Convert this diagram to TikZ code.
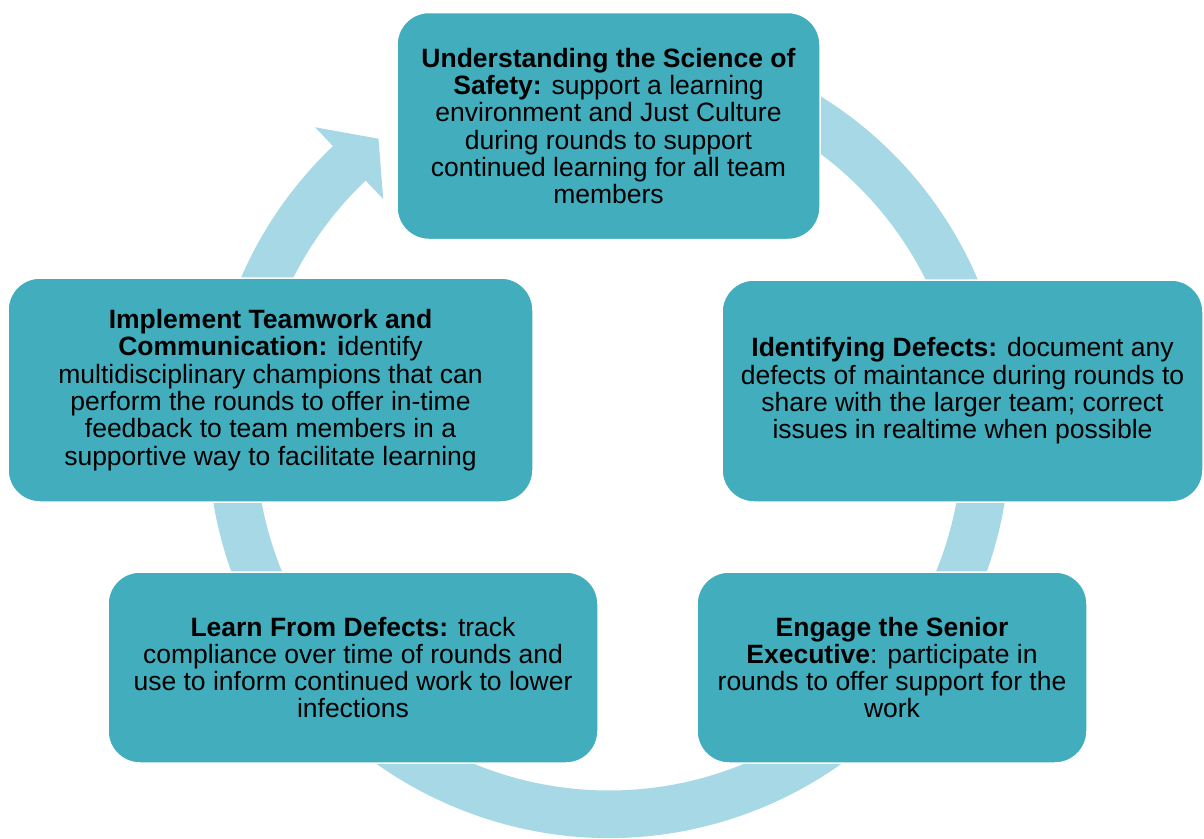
\documentclass[tikz,border=0pt]{standalone}
\usepackage{fontspec}
\setmainfont{Liberation Sans}
\usetikzlibrary{positioning}
\definecolor{boxteal}{HTML}{41ADBD}
\definecolor{ringblue}{HTML}{A6D8E5}

\begin{document}
\begin{tikzpicture}[x=1pt,y=-1pt,
    stepbox/.style={fill=boxteal,draw=white,line width=1.5pt,rounded corners=32pt,
      align=center,inner sep=0pt,font=\fontsize{26.5}{27.3}\selectfont}]
  \useasboundingbox (0,0) rectangle (1204,838);
  % cycle ring with arrow head
  \begin{scope}[shift={(609,437)}]
    \fill[ringblue] (-70:401) arc[start angle=-70,end angle=226.5,radius=401]
      -- (226.5:427) -- (232.3:377) -- (226.5:328)
      -- (226.5:353.5) arc[start angle=226.5,end angle=-70,radius=353.5] -- cycle;
  \end{scope}
  % steps
  \node[stepbox,minimum width=423pt,minimum height=227pt] (science) at (608.5,126)
    {\textbf{Understanding the Science of}\\
     \textbf{Safety:} support a learning\\
     environment and Just Culture\\
     during rounds to support\\
     continued learning for all team\\
     members};
  \node[stepbox,minimum width=481pt,minimum height=222pt] (defects) at (962.5,391)
    {\textbf{Identifying Defects:} document any\\
     defects of maintance during rounds to\\
     share with the larger team; correct\\
     issues in realtime when possible};
  \node[stepbox,minimum width=390pt,minimum height=191pt] (senior) at (892,667.5)
    {\textbf{Engage the Senior}\\
     \textbf{Executive}: participate in\\
     rounds to offer support for the\\
     work};
  \node[stepbox,minimum width=490pt,minimum height=191pt] (learn) at (353,667.5)
    {\textbf{Learn From Defects:} track\\
     compliance over time of rounds and\\
     use to inform continued work to lower\\
     infections};
  \node[stepbox,minimum width=525pt,minimum height=224pt] (teamwork) at (270.5,390)
    {\textbf{Implement Teamwork and}\\
     \textbf{Communication: i}dentify\\
     multidisciplinary champions that can\\
     perform the rounds to offer in-time\\
     feedback to team members in a\\
     supportive way to facilitate learning};
\end{tikzpicture}
\end{document}
